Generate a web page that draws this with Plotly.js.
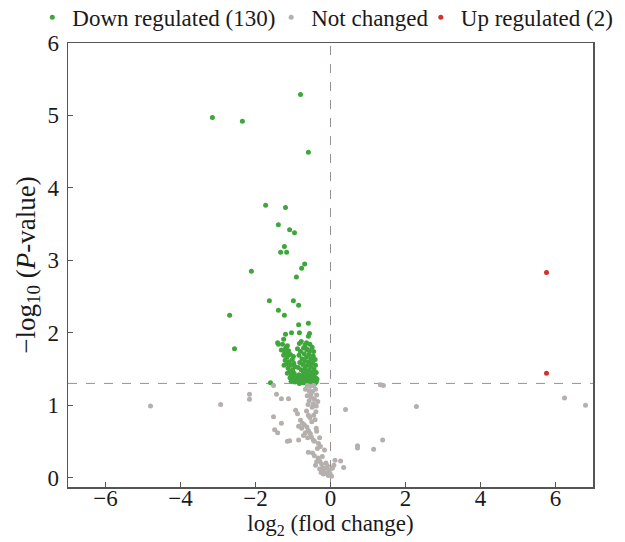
<!DOCTYPE html>
<html>
<head>
<meta charset="utf-8">
<script src="https://cdn.plot.ly/plotly-3.0.1.min.js"></script>
<style>html,body{margin:0;padding:0;background:#fff;}#chart{width:625px;height:542px;}</style>
</head>
<body>
<div id="chart"></div>
<script>
// Down regulated (green)
const downX = [-3.15,-2.35,-0.80,-0.59,-1.73,-1.20,-1.39,-1.09,-0.96,-1.23,-1.33,-1.17,-0.69,-0.77,-2.11,-0.91,-2.69,-2.56,
  -1.63,-0.99,-0.85,-1.39,-1.23,-0.85,-0.59,-1.04,-0.83,-1.20,-0.56,-0.59,-1.25,-1.41,-1.39,-1.15,-0.83,-0.64,-1.20,-0.88,-0.64,-0.56,-1.60,
  -1.28,-1.18,-1.31,-1.22,-1.12,-1.25,-1.16,-1.07,-1.21,-1.11,-1.02,-1.17,-1.06,-0.98,-1.13,-1.01,-0.94,-1.09,-0.97,-1.04,-0.92,-1.00,-0.90,-1.08,-0.95,-1.15,-1.24,-0.99,-1.14,-1.05,
  -0.78,-0.68,-0.55,-0.72,-0.49,-0.62,-0.80,-0.45,-0.70,-0.57,-0.84,-0.46,-0.64,-0.76,-0.52,-0.41,-0.69,-0.58,-0.82,-0.47,-0.74,-0.62,-0.40,-0.53,-0.86,-0.68,-0.44,-0.78,-0.58,-0.49,
  -0.72,-0.38,-0.63,-0.84,-0.54,-0.44,-0.75,-0.67,-0.59,-0.40,-0.81,-0.50,-0.71,-0.63,-0.45,-0.88,-0.55,-0.77,-0.38,-0.67,-0.48,-0.60,-0.83,-0.42,-0.73,-0.52,-0.36,-0.65,-0.56];
const downY = [4.97,4.92,5.29,4.49,3.76,3.73,3.49,3.42,3.38,3.19,3.11,3.11,2.95,2.89,2.85,2.77,2.24,1.78,
  2.44,2.44,2.38,2.31,2.24,2.11,2.13,2.00,2.00,1.98,1.99,1.95,1.91,1.86,1.84,1.82,1.85,1.86,1.78,1.78,1.78,1.75,1.31,
  1.84,1.80,1.76,1.73,1.75,1.69,1.66,1.70,1.62,1.60,1.63,1.57,1.55,1.58,1.51,1.49,1.53,1.46,1.44,1.41,1.40,1.37,1.35,1.38,1.32,1.44,1.55,1.67,1.69,1.33,
  1.88,1.83,1.84,1.79,1.80,1.76,1.74,1.74,1.71,1.70,1.69,1.68,1.66,1.64,1.64,1.63,1.61,1.60,1.59,1.58,1.56,1.55,1.55,1.53,1.52,1.51,1.50,1.49,1.48,1.46,
  1.45,1.45,1.43,1.42,1.42,1.41,1.40,1.39,1.38,1.38,1.37,1.37,1.35,1.34,1.34,1.34,1.33,1.32,1.32,1.31,1.31,1.30,1.30,1.30,1.31,1.35,1.36,1.47,1.57];

// Not changed (gray)
const notX = [-4.80,-2.93,-2.16,-2.16,-1.52,-1.44,-1.31,-1.12,-1.52,-1.31,-1.49,-1.41,-1.15,-1.09,-0.85,0.40,1.33,1.41,2.29,0.72,0.72,1.15,1.39,0.27,0.35,6.24,6.80,
  -0.62,-0.54,-0.45,-0.67,-0.57,-0.48,-0.40,-0.62,-0.51,-0.43,-0.57,-0.46,-0.38,-0.49,-0.39,-0.45,-0.37,-0.52,-0.34,-0.60,
  -0.93,-0.88,-0.80,-0.75,-0.70,-0.77,-0.63,-0.59,-0.67,-0.54,-0.51,-0.61,-0.46,-0.43,-0.38,-0.37,-0.29,-0.32,-0.64,-0.59,-0.85,-0.72,-0.50,-0.41,-0.55,
  -0.59,-0.48,-0.43,-0.33,-0.29,-0.37,-0.24,-0.21,-0.29,-0.18,-0.11,-0.14,-0.03,0.05,0.09,0.12,-0.06,-0.01,-0.22,-0.16,-0.27,-0.35,-0.12,-0.08,-0.19,0.03,-0.40,-0.25];
const notY = [0.99,1.01,1.15,1.08,1.27,1.15,1.09,1.09,0.84,0.75,0.66,0.62,0.50,0.51,0.52,0.94,1.28,1.27,0.98,0.41,0.44,0.39,0.52,0.23,0.14,1.10,1.00,
  1.27,1.26,1.27,1.22,1.20,1.19,1.22,1.13,1.11,1.08,1.06,1.02,0.99,0.97,0.91,0.86,1.14,1.16,1.05,1.01,
  0.93,0.88,0.79,0.75,0.73,0.68,0.70,0.65,0.62,0.61,0.56,0.55,0.52,0.50,0.68,0.64,0.55,0.47,0.92,0.86,0.71,0.58,0.77,0.80,0.83,
  0.35,0.34,0.30,0.27,0.23,0.22,0.19,0.14,0.12,0.10,0.06,0.13,0.10,0.13,0.17,0.24,0.03,0.05,0.29,0.38,0.43,0.40,0.20,0.16,0.05,0.02,0.17,0.07];

// Up regulated (red)
const upX = [5.76, 5.76];
const upY = [2.83, 1.44];

const seriesNames = ['Down regulated (130)', 'Not changed', 'Up regulated (2)'];
const pThreshold = 1.3;
const fcCenter = 0;
const xTicks = [-6,-4,-2,0,2,4,6];
const yTicks = [0,1,2,3,4,5,6];

const font = 'Liberation Serif, Times New Roman, serif';
const txt = '#1a1a1a';
const mk = (c) => ({color: c, size: 5, line: {width: 0}});

const traces = [
  {x: downX, y: downY, mode: 'markers', type: 'scatter', name: seriesNames[0], marker: mk('#3fa63c'), legend: 'legend'},
  {x: notX, y: notY, mode: 'markers', type: 'scatter', name: seriesNames[1], marker: mk('#b5afad'), legend: 'legend2'},
  {x: upX, y: upY, mode: 'markers', type: 'scatter', name: seriesNames[2], marker: mk('#d2312d'), legend: 'legend3'}
];

const leg = (x) => ({orientation: 'h', x: x, xanchor: 'left', y: 1.058, yanchor: 'middle',
  font: {family: font, size: 23, color: txt}, itemwidth: 30, bgcolor: 'rgba(0,0,0,0)', borderwidth: 0});

const layout = {
  width: 625, height: 542,
  margin: {l: 68, r: 32, t: 43, b: 55, autoexpand: false},
  paper_bgcolor: '#fff', plot_bgcolor: '#fff',
  font: {family: font, size: 23, color: txt},
  showlegend: true,
  legend: leg(-0.068),
  legend2: leg(0.387),
  legend3: leg(0.672),
  xaxis: {range: [-7, 7], tickvals: xTicks, ticks: 'inside', ticklen: 5, tickcolor: '#555',
          showline: true, linecolor: '#555', linewidth: 1.5, mirror: true, showgrid: false, zeroline: false,
          tickfont: {family: font, size: 23, color: txt}, ticklabelstandoff: -10,
          title: {text: 'log<sub>2</sub> (flod change)', font: {family: font, size: 23, color: txt}, standoff: 5}},
  yaxis: {range: [-0.13, 6], tickvals: yTicks, ticks: 'inside', ticklen: 5, tickcolor: '#555',
          showline: true, linecolor: '#555', linewidth: 1.5, mirror: true, showgrid: false, zeroline: false,
          tickfont: {family: font, size: 23, color: txt}, ticklabelstandoff: 3,
          title: {text: '\u2212log<sub>10</sub> (<i>P</i>-value)', font: {family: font, size: 27, color: txt}, standoff: 4}},
  shapes: [
    {type: 'line', xref: 'x', yref: 'paper', x0: fcCenter, x1: fcCenter, y0: 0, y1: 1,
     line: {color: '#9a9090', width: 1, dash: 'dash'}, layer: 'below'},
    {type: 'line', xref: 'paper', yref: 'y', x0: 0, x1: 1, y0: pThreshold, y1: pThreshold,
     line: {color: '#9a9090', width: 1, dash: 'dash'}, layer: 'below'}
  ]
};

Plotly.newPlot('chart', traces, layout, {displayModeBar: false, staticPlot: true});
</script>
</body>
</html>
